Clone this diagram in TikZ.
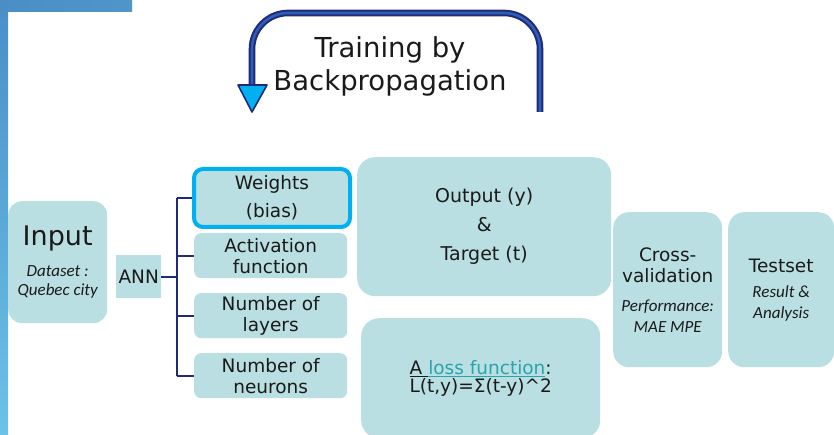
\documentclass[tikz,border=0pt]{standalone}
\usepackage{fontspec}
\setmainfont{DejaVu Sans}
\newfontfamily\notefont{Carlito}
\definecolor{boxfill}{HTML}{BADFE2}
\definecolor{hilite}{HTML}{00B0F0}
\definecolor{navy}{HTML}{1F2A78}
\definecolor{midblue}{HTML}{2F5DB4}
\definecolor{linkteal}{HTML}{2AA3AD}
\definecolor{frametop}{HTML}{4A8EC6}
\definecolor{framebot}{HTML}{6CC2E8}
\definecolor{txt}{HTML}{1A1A1A}
\tikzset{
  box/.style={fill=boxfill, rounded corners=#1, inner sep=0pt, align=center,
              anchor=north west, text=txt},
  box/.default=8pt,
  bracket/.style={draw=navy, line width=2pt},
  loopline/.style={draw=navy, line width=2pt, double=midblue, double distance=2.6pt,
                   rounded corners=36pt},
}
\newcommand{\notetext}[1]{{\notefont\itshape\fontsize{17}{19}\selectfont #1}}
\begin{document}
\begin{tikzpicture}[x=1pt,y=-1pt]
  \clip (0,0) rectangle (834,435);
  \fill[white] (0,0) rectangle (834,435);

  % slide frame in the top-left corner
  \shade[top color=frametop, bottom color=framebot] (0,0) rectangle (8,435);
  \shade[left color=frametop, right color=frametop!85!framebot] (0,0) rectangle (132,12);

  % feedback loop of the training
  \coordinate (loopstart) at (540,112);
  \coordinate (loopend) at (252,86);
  \coordinate (tip) at (252,112);
  \draw[loopline] (loopstart) -- (540,13) -- (252,13) -- (loopend);
  \draw[fill=hilite, draw=navy, line width=1.6pt, line join=round]
    (238,85) -- (267,85) -- (tip) -- cycle;
  \node[align=center, text=txt, font=\fontsize{27.5}{33}\selectfont] (title) at (390,66)
    {Training by\\Backpropagation};

  % input and network
  \node[box=14pt, minimum width=99pt, minimum height=122pt,
        font=\fontsize{17}{19}\selectfont] (input) at (8,201)
    {{\fontsize{27}{27}\selectfont Input}\\[12pt]\notetext{Dataset :}\\\notetext{Quebec city}};
  \node[box=0pt, minimum width=45pt, minimum height=43pt,
        font=\fontsize{18.5}{21}\selectfont] (ann) at (116,255) {ANN};

  % network settings
  \node[box=9pt, draw=hilite, line width=4pt, minimum width=156pt, minimum height=58pt,
        font=\fontsize{18.5}{28}\selectfont] (weights) at (192,167) {Weights\\(bias)};
  \node[box=7pt, minimum width=153pt, minimum height=45pt,
        font=\fontsize{18.5}{21}\selectfont] (act) at (194,233) {Activation\\function};
  \node[box=7pt, minimum width=153pt, minimum height=45pt,
        font=\fontsize{18.5}{21}\selectfont] (layers) at (194,293) {Number of\\layers};
  \node[box=7pt, minimum width=153pt, minimum height=45pt,
        font=\fontsize{18.5}{21}\selectfont] (neurons) at (194,353) {Number of\\neurons};

  % bracket from the network to its settings
  \coordinate (trunk) at (177,277);
  \draw[bracket] (ann.east) -- (ann.east -| trunk);
  \draw[bracket] (trunk |- weights.west) -- (trunk |- neurons.west);
  \foreach \b in {weights,act,layers,neurons}
    \draw[bracket] (trunk |- \b.west) -- (\b.west);

  % output and loss
  \node[box=18pt, minimum width=254pt, minimum height=139pt,
        font=\fontsize{19}{29}\selectfont] (output) at (357,157)
    {Output (y)\\\&\\Target (t)};
  \node[box=18pt, minimum width=239pt, minimum height=120pt,
        font=\fontsize{18.5}{18}\selectfont] (loss) at (361,318)
    {\underline{A\ }\textcolor{linkteal}{\underline{loss function}}:\\L(t,y)=Σ(t-y)\^{}2};

  % evaluation
  \node[box=16pt, minimum width=109pt, minimum height=155pt,
        font=\fontsize{18.5}{21}\selectfont] (cross) at (613,212)
    {Cross-\\validation\\[8pt]\notetext{Performance:}\\\notetext{MAE MPE}};
  \node[box=16pt, minimum width=106pt, minimum height=155pt,
        font=\fontsize{18.5}{21}\selectfont] (testset) at (728,212)
    {Testset\\[4pt]\notetext{Result \&}\\\notetext{Analysis}};
\end{tikzpicture}
\end{document}
